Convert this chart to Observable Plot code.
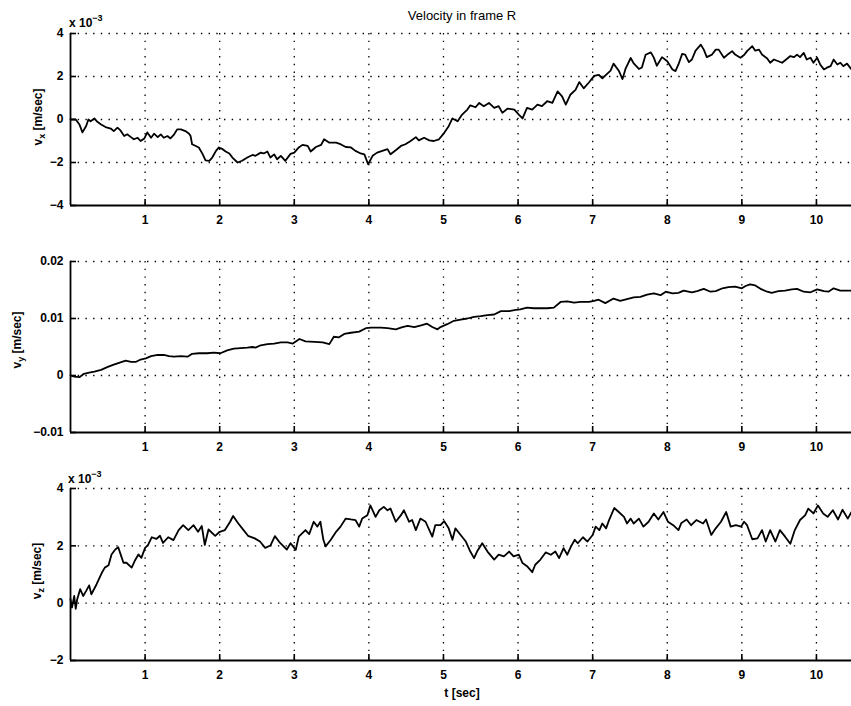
<!DOCTYPE html>
<html><head><meta charset="utf-8">
<script src="https://cdn.jsdelivr.net/npm/d3@7"></script>
<script src="https://cdn.jsdelivr.net/npm/@observablehq/plot@0.6"></script>
<style>
body{margin:0;background:#fff;}
#wrap{position:relative;width:851px;height:706px;overflow:hidden;font-family:"Liberation Sans",Arial,sans-serif;color:#000;}
.pane{position:absolute;left:0;}
.txt{position:absolute;white-space:nowrap;line-height:1;}
.ylab{position:absolute;transform:translate(-50%,-50%) rotate(-90deg);font-size:12px;font-weight:bold;white-space:nowrap;line-height:1;}
.ylab sub{font-size:9px;vertical-align:-3px;}
sup{font-size:9px;vertical-align:6px;}
</style></head><body><div id="wrap"></div>
<script>
// ---- data ----
const titleText = "Velocity in frame R";
const xLabelText = "t [sec]";
const xTicks = [1,2,3,4,5,6,7,8,9,10];
const tMax = 10.47;
const vxTicks = [-4,-2,0,2,4];        // ×10^-3
const vyTicks = [-0.01,0,0.01,0.02];
const vzTicks = [-2,0,2,4];           // ×10^-3

// v_x, units of 1e-3 m/s : [t, v]
const vxSamples = [[0,0],[0.07,0],[0.12,-0.23],[0.16,-0.6],[0.21,-0.3],[0.24,0],[0.27,-0.08],[0.32,0.05],[0.36,-0.11],[0.41,-0.23],[0.47,-0.35],[0.54,-0.42],[0.58,-0.54],[0.63,-0.38],[0.67,-0.51],[0.72,-0.77],[0.76,-0.69],[0.81,-0.82],[0.85,-0.92],[0.90,-0.85],[0.94,-1.0],[0.99,-0.88],[1.03,-0.6],[1.08,-0.85],[1.12,-0.66],[1.17,-0.82],[1.21,-0.69],[1.25,-0.85],[1.30,-0.77],[1.34,-0.88],[1.39,-0.69],[1.43,-0.46],[1.48,-0.46],[1.54,-0.54],[1.59,-0.66],[1.61,-0.77],[1.63,-1.15],[1.68,-1.23],[1.72,-1.3],[1.77,-1.6],[1.81,-1.9],[1.86,-1.92],[1.90,-1.77],[1.95,-1.46],[1.99,-1.3],[2.04,-1.38],[2.08,-1.49],[2.13,-1.58],[2.17,-1.77],[2.24,-2.0],[2.30,-1.92],[2.37,-1.77],[2.44,-1.65],[2.48,-1.69],[2.55,-1.54],[2.59,-1.58],[2.64,-1.49],[2.68,-1.77],[2.73,-1.62],[2.77,-1.85],[2.82,-1.69],[2.88,-1.92],[2.95,-1.6],[3.00,-1.54],[3.06,-1.3],[3.11,-1.18],[3.18,-1.23],[3.22,-1.49],[3.29,-1.28],[3.36,-1.18],[3.40,-0.92],[3.47,-1.08],[3.56,-1.08],[3.62,-1.15],[3.69,-1.28],[3.76,-1.3],[3.82,-1.46],[3.89,-1.58],[3.94,-1.62],[3.99,-2.08],[4.05,-1.69],[4.11,-1.54],[4.18,-1.46],[4.25,-1.38],[4.29,-1.62],[4.36,-1.43],[4.43,-1.23],[4.49,-1.15],[4.56,-1.0],[4.63,-0.82],[4.67,-0.97],[4.74,-0.85],[4.81,-0.97],[4.87,-1.0],[4.94,-0.92],[5.01,-0.62],[5.07,-0.31],[5.12,0.05],[5.19,-0.08],[5.25,0.23],[5.32,0.46],[5.36,0.66],[5.43,0.57],[5.48,0.77],[5.54,0.62],[5.61,0.77],[5.68,0.54],[5.74,0.62],[5.79,0.31],[5.86,0.51],[5.95,0.46],[6.01,0.23],[6.06,0.05],[6.12,0.54],[6.19,0.46],[6.26,0.69],[6.32,0.62],[6.39,0.85],[6.46,0.77],[6.53,1.31],[6.59,1.08],[6.64,0.69],[6.70,1.15],[6.77,1.38],[6.82,1.74],[6.88,1.45],[6.95,1.72],[7.02,2.03],[7.08,2.08],[7.13,1.92],[7.19,2.11],[7.24,2.27],[7.28,2.6],[7.35,2.27],[7.40,1.88],[7.44,2.35],[7.51,2.86],[7.55,2.61],[7.62,2.35],[7.66,2.42],[7.71,3.01],[7.78,3.12],[7.82,2.88],[7.86,2.5],[7.93,2.9],[8.0,2.71],[8.07,2.33],[8.11,2.25],[8.15,2.56],[8.20,3.05],[8.24,3.02],[8.29,2.67],[8.33,2.79],[8.38,3.2],[8.45,3.48],[8.49,3.25],[8.53,2.9],[8.60,3.02],[8.65,3.25],[8.69,3.25],[8.76,2.87],[8.82,3.05],[8.87,3.18],[8.91,3.02],[8.98,2.87],[9.03,3.0],[9.07,3.18],[9.14,3.41],[9.18,3.2],[9.23,3.25],[9.27,3.02],[9.34,2.84],[9.38,2.64],[9.43,2.79],[9.49,2.71],[9.54,2.64],[9.61,2.84],[9.65,2.95],[9.70,2.9],[9.74,3.02],[9.78,2.9],[9.83,3.1],[9.87,2.79],[9.92,2.87],[9.96,2.64],[10.01,2.87],[10.05,2.56],[10.10,2.33],[10.14,2.41],[10.19,2.48],[10.23,2.79],[10.28,2.56],[10.32,2.64],[10.36,2.48],[10.41,2.6],[10.47,2.33]];

// v_y, m/s : [t, v]
const vySamples = [[0,0],[0.05,-0.0002],[0.12,-0.0003],[0.18,0.0003],[0.25,0.0005],[0.32,0.0007],[0.41,0.001],[0.5,0.0015],[0.58,0.0019],[0.67,0.0023],[0.74,0.0026],[0.81,0.0024],[0.88,0.0024],[0.94,0.0028],[1.01,0.003],[1.08,0.0034],[1.17,0.0036],[1.25,0.0036],[1.32,0.0034],[1.39,0.0033],[1.48,0.0034],[1.57,0.0033],[1.63,0.0038],[1.72,0.0039],[1.83,0.0039],[1.92,0.004],[2.01,0.0039],[2.1,0.0044],[2.19,0.0047],[2.28,0.0048],[2.37,0.0049],[2.44,0.005],[2.48,0.0049],[2.55,0.0053],[2.64,0.0055],[2.73,0.0056],[2.82,0.0058],[2.91,0.0058],[2.98,0.0056],[3.07,0.0064],[3.15,0.006],[3.27,0.0059],[3.38,0.0058],[3.47,0.0055],[3.53,0.0068],[3.6,0.0067],[3.67,0.0073],[3.76,0.0075],[3.87,0.0077],[3.96,0.0083],[4.03,0.0084],[4.16,0.0084],[4.25,0.0083],[4.36,0.0081],[4.45,0.0085],[4.52,0.0087],[4.61,0.0085],[4.7,0.0088],[4.78,0.0091],[4.85,0.0085],[4.92,0.0081],[4.96,0.0085],[5.05,0.009],[5.14,0.0096],[5.23,0.0098],[5.32,0.01],[5.41,0.0103],[5.5,0.0104],[5.59,0.0106],[5.68,0.0107],[5.77,0.0113],[5.88,0.0113],[5.97,0.0115],[6.03,0.0116],[6.12,0.0119],[6.21,0.0118],[6.3,0.0118],[6.39,0.0118],[6.48,0.0119],[6.57,0.0129],[6.66,0.013],[6.75,0.0128],[6.84,0.0129],[6.95,0.0129],[7.02,0.0131],[7.08,0.0133],[7.17,0.0127],[7.28,0.0135],[7.37,0.0131],[7.46,0.0134],[7.55,0.0137],[7.64,0.0138],[7.73,0.0142],[7.82,0.0144],[7.91,0.0141],[7.98,0.0147],[8.07,0.0144],[8.15,0.0145],[8.22,0.0149],[8.33,0.0146],[8.4,0.0148],[8.49,0.0152],[8.58,0.0147],[8.65,0.0148],[8.74,0.0153],[8.82,0.0155],[8.91,0.0156],[9.0,0.0153],[9.05,0.0157],[9.11,0.016],[9.18,0.0158],[9.25,0.0152],[9.34,0.0147],[9.4,0.0145],[9.49,0.0148],[9.58,0.0149],[9.67,0.0151],[9.74,0.0152],[9.83,0.0147],[9.92,0.0146],[10.01,0.0151],[10.1,0.0148],[10.16,0.0147],[10.23,0.0153],[10.32,0.0149],[10.47,0.0149]];

// v_z, units of 1e-3 m/s : [t, v]
const vzSamples = [[0,0.14],[0.02,-0.15],[0.05,0.25],[0.07,-0.2],[0.09,0.14],[0.13,0.49],[0.17,0.25],[0.21,0.43],[0.25,0.62],[0.28,0.31],[0.35,0.66],[0.42,1.06],[0.46,1.24],[0.51,1.32],[0.55,1.7],[0.6,1.87],[0.64,1.95],[0.68,1.64],[0.71,1.41],[0.75,1.41],[0.82,1.24],[0.86,1.47],[0.91,1.7],[0.95,1.58],[1.0,1.93],[1.04,2.03],[1.09,2.3],[1.15,2.24],[1.2,2.35],[1.24,2.1],[1.31,2.3],[1.38,2.2],[1.45,2.55],[1.51,2.72],[1.58,2.55],[1.65,2.72],[1.71,2.49],[1.76,2.69],[1.8,2.03],[1.85,2.57],[1.94,2.35],[2.0,2.49],[2.07,2.55],[2.14,2.84],[2.18,3.04],[2.25,2.78],[2.32,2.55],[2.38,2.35],[2.47,2.26],[2.54,2.15],[2.61,1.93],[2.68,2.01],[2.74,2.34],[2.81,2.1],[2.9,1.87],[2.95,2.09],[3.02,1.86],[3.06,2.32],[3.15,2.55],[3.2,2.41],[3.26,2.84],[3.31,2.67],[3.35,2.84],[3.39,2.21],[3.42,1.98],[3.49,2.21],[3.56,2.49],[3.62,2.67],[3.69,2.95],[3.76,2.92],[3.82,2.9],[3.87,2.67],[3.91,2.95],[3.98,3.07],[4.02,3.41],[4.09,3.01],[4.14,3.24],[4.2,3.36],[4.25,3.24],[4.29,3.3],[4.36,2.84],[4.43,3.07],[4.47,3.24],[4.54,2.84],[4.58,2.9],[4.63,2.55],[4.69,2.95],[4.76,2.84],[4.85,2.32],[4.89,2.72],[4.96,2.72],[5.01,2.86],[5.07,2.61],[5.12,2.21],[5.16,2.61],[5.23,2.38],[5.3,2.15],[5.36,1.8],[5.41,1.57],[5.45,1.8],[5.52,2.09],[5.59,1.8],[5.68,1.52],[5.74,1.69],[5.81,1.63],[5.88,1.8],[5.94,1.63],[6.01,1.69],[6.06,1.4],[6.12,1.29],[6.19,1.08],[6.23,1.34],[6.3,1.52],[6.37,1.77],[6.44,1.69],[6.5,1.8],[6.55,1.57],[6.61,1.92],[6.66,1.69],[6.71,1.98],[6.76,2.21],[6.8,2.09],[6.87,2.3],[6.93,2.15],[7.0,2.38],[7.04,2.67],[7.09,2.55],[7.13,2.78],[7.18,2.61],[7.22,2.9],[7.29,3.32],[7.35,3.18],[7.42,3.01],[7.46,2.78],[7.51,2.95],[7.55,2.78],[7.62,2.95],[7.68,2.67],[7.75,2.84],[7.82,3.13],[7.88,2.92],[7.95,3.18],[8.01,2.84],[8.08,2.72],[8.15,2.55],[8.19,2.8],[8.26,2.92],[8.32,2.72],[8.39,2.9],[8.48,2.78],[8.52,2.92],[8.59,2.38],[8.65,2.61],[8.72,2.84],[8.79,3.18],[8.85,2.67],[8.92,2.72],[8.99,2.67],[9.03,2.84],[9.07,2.72],[9.14,2.23],[9.21,2.26],[9.27,2.55],[9.32,2.15],[9.38,2.55],[9.45,2.15],[9.51,2.55],[9.58,2.32],[9.65,2.07],[9.71,2.55],[9.78,2.9],[9.85,3.07],[9.89,3.3],[9.96,3.13],[10.02,3.41],[10.09,3.13],[10.15,3.01],[10.22,3.24],[10.29,2.92],[10.35,3.26],[10.42,2.95],[10.47,3.18]];

// ---- drawing ----
const W = 851, ML = 70, MR = 0;
const minus = s => String(s).replace("-", "\u2212");
const wrap = document.getElementById("wrap");

function panel({data, yDomain, yTicks, yFmt, top, mTop, plotH, mBottom}) {
  const height = mTop + plotH + mBottom;
  const innerW = W - ML - MR;
  const dots = {stroke: "#000", strokeOpacity: 1, strokeWidth: 1.3, strokeDasharray: "1.4,6.3"};
  const chart = Plot.plot({
    width: W, height,
    marginLeft: ML, marginRight: MR, marginTop: mTop, marginBottom: mBottom,
    style: {background: "transparent", fontFamily: "'Liberation Sans', Arial, sans-serif", fontSize: "12px", fontWeight: "bold", color: "#000", overflow: "visible"},
    x: {domain: [0, tMax], ticks: xTicks, tickSize: 0, tickPadding: 10, tickFormat: d => String(d), label: null},
    y: {domain: yDomain, ticks: yTicks, tickSize: 0, tickPadding: 7, tickFormat: yFmt, label: null},
    marks: [
      Plot.ruleX(xTicks, {...dots}),
      Plot.ruleY(yTicks.filter(v => v !== yDomain[0]), {...dots, x1: 0, x2: tMax}),
      Plot.ruleX(xTicks, {stroke: "#000", strokeWidth: 1.6, insetTop: plotH - 6}),
      Plot.ruleY(yTicks, {stroke: "#000", strokeWidth: 1.6, x1: 0, x2: tMax, insetRight: innerW - 6}),
      Plot.ruleX([0], {stroke: "#000", strokeWidth: 1.8}),
      Plot.ruleY([yDomain[0]], {stroke: "#000", strokeWidth: 2.2, x1: 0, x2: tMax}),
      Plot.line(data, {x: d => d[0], y: d => d[1], stroke: "#000", strokeWidth: 1.8, strokeLinejoin: "round"})
    ]
  });
  const div = document.createElement("div");
  div.className = "pane";
  div.style.top = top + "px";
  div.appendChild(chart);
  wrap.appendChild(div);
}

panel({data: vxSamples, yDomain: [-4, 4], yTicks: vxTicks, yFmt: d => minus(d), top: 0, mTop: 33, plotH: 172, mBottom: 25});
panel({data: vySamples, yDomain: [-0.01, 0.02], yTicks: vyTicks, yFmt: d => d === 0 ? "0" : minus(d.toFixed(2)), top: 230, mTop: 31, plotH: 171, mBottom: 25});
panel({data: vzSamples, yDomain: [-2, 4], yTicks: vzTicks, yFmt: d => minus(d), top: 457, mTop: 31, plotH: 172, mBottom: 46});

function addText(html, css, cls) {
  const el = document.createElement("div");
  el.className = cls || "txt";
  el.innerHTML = html;
  Object.assign(el.style, css);
  wrap.appendChild(el);
}
addText(titleText, {left: "462px", top: "15px", transform: "translate(-50%,-50%)", fontSize: "13px"});
addText("x 10<sup>\u22123</sup>", {left: "69px", top: "14px", fontSize: "12px", fontWeight: "bold"});
addText("x 10<sup>\u22123</sup>", {left: "68px", top: "470px", fontSize: "12px", fontWeight: "bold"});
addText("v<sub>x</sub> [m/sec]", {left: "39px", top: "117px"}, "ylab");
addText("v<sub>y</sub> [m/sec]", {left: "18px", top: "340px"}, "ylab");
addText("v<sub>z</sub> [m/sec]", {left: "38px", top: "571px"}, "ylab");
addText(xLabelText, {left: "462px", top: "693px", transform: "translate(-50%,-50%)", fontSize: "12px", fontWeight: "bold"});
</script>
</body></html>
